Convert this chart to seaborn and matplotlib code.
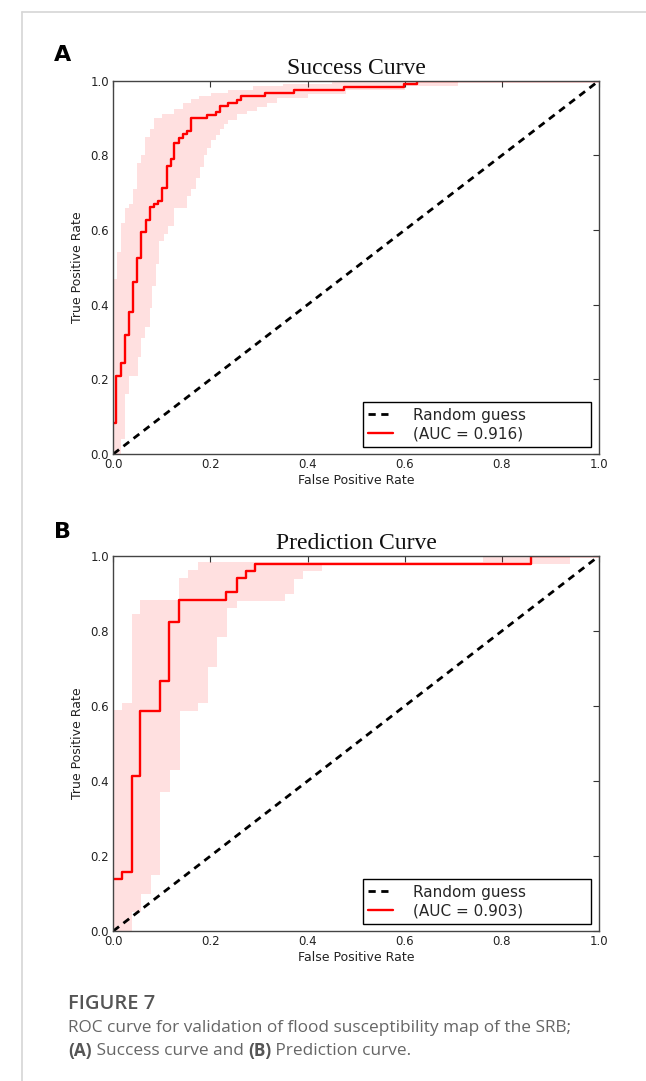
import numpy as np
import pandas as pd
import matplotlib
matplotlib.use("Agg")
import matplotlib.pyplot as plt
from matplotlib.lines import Line2D
import seaborn as sns

# ---------------- data ----------------
# Success curve (panel A): step ROC, tpr[i] holds from fpr[i] to fpr[i+1]
succ_fpr = [0.0, 0.006, 0.016, 0.024, 0.033, 0.041, 0.049, 0.058, 0.067, 0.075,
            0.084, 0.093, 0.101, 0.110, 0.118, 0.126, 0.135, 0.143, 0.152, 0.160,
            0.193, 0.211, 0.220, 0.237, 0.254, 0.262, 0.313, 0.372, 0.475, 0.598,
            0.626, 1.0]
succ_tpr = [0.083, 0.210, 0.245, 0.320, 0.380, 0.460, 0.525, 0.595, 0.627, 0.662,
            0.671, 0.678, 0.713, 0.771, 0.789, 0.832, 0.847, 0.856, 0.865, 0.899,
            0.908, 0.915, 0.932, 0.941, 0.949, 0.958, 0.966, 0.975, 0.984, 0.992,
            1.0, 1.0]
succ_up_x = [0.0, 0.008, 0.016, 0.024, 0.033, 0.041, 0.049, 0.058, 0.066, 0.075,
             0.084, 0.101, 0.126, 0.143, 0.160, 0.177, 0.202, 0.237, 0.288, 0.350,
             0.450, 1.0]
succ_up_y = [0.47, 0.54, 0.62, 0.66, 0.67, 0.71, 0.78, 0.80, 0.85, 0.87,
             0.90, 0.91, 0.925, 0.94, 0.95, 0.96, 0.968, 0.975, 0.985, 0.99,
             1.0, 1.0]
succ_lo_x = [0.0, 0.016, 0.024, 0.033, 0.050, 0.058, 0.066, 0.075, 0.080, 0.087,
             0.095, 0.104, 0.112, 0.126, 0.152, 0.160, 0.170, 0.178, 0.186, 0.193,
             0.202, 0.211, 0.220, 0.228, 0.237, 0.254, 0.275, 0.296, 0.316, 0.337,
             0.400, 0.480, 0.600, 0.710, 1.0]
succ_lo_y = [0.0, 0.04, 0.16, 0.21, 0.26, 0.31, 0.34, 0.39, 0.45, 0.51,
             0.57, 0.59, 0.61, 0.66, 0.69, 0.71, 0.74, 0.77, 0.80, 0.82,
             0.84, 0.855, 0.87, 0.885, 0.895, 0.91, 0.92, 0.93, 0.94, 0.953,
             0.965, 0.975, 0.985, 1.0, 1.0]

# Prediction curve (panel B)
pred_fpr = [0.0, 0.017, 0.038, 0.056, 0.096, 0.115, 0.135, 0.233, 0.254, 0.273,
            0.292, 0.861, 1.0]
pred_tpr = [0.138, 0.157, 0.413, 0.588, 0.667, 0.824, 0.883, 0.903, 0.941, 0.960,
            0.980, 1.0, 1.0]
pred_up_x = [0.0, 0.017, 0.038, 0.056, 0.135, 0.154, 0.174, 0.762, 1.0]
pred_up_y = [0.59, 0.609, 0.845, 0.883, 0.942, 0.963, 0.983, 1.0, 1.0]
pred_lo_x = [0.0, 0.038, 0.058, 0.077, 0.097, 0.117, 0.137, 0.175, 0.196, 0.214,
             0.235, 0.254, 0.353, 0.372, 0.391, 0.429, 0.940, 1.0]
pred_lo_y = [0.0, 0.05, 0.10, 0.15, 0.371, 0.429, 0.587, 0.607, 0.705, 0.783,
             0.862, 0.880, 0.900, 0.940, 0.960, 0.980, 1.0, 1.0]

auc_labels = ["(AUC = 0.916)", "(AUC = 0.903)"]
titles = ["Success Curve", "Prediction Curve"]
panel_letters = ["A", "B"]
diag = [0.0, 1.0]
ticks = [0.0, 0.2, 0.4, 0.6, 0.8, 1.0]
tick_labels = ["0.0", "0.2", "0.4", "0.6", "0.8", "1.0"]

# ---------------- style ----------------
sns.set_theme(style="white")
plt.rcParams["font.family"] = ["DejaVu Sans"]
plt.rcParams.update({
    "xtick.direction": "in", "ytick.direction": "in",
    "xtick.top": True, "ytick.right": True,
    "xtick.major.size": 4, "ytick.major.size": 4,
    "xtick.major.width": 0.8, "ytick.major.width": 0.8,
    "xtick.color": "#333333", "ytick.color": "#333333",
    "axes.edgecolor": "#444444", "axes.linewidth": 1.0,
})

W, H = 646, 1081
fig = plt.figure(figsize=(W / 100, H / 100), dpi=100)
fig.patch.set_facecolor("white")

# frame lines of the page
fig.add_artist(Line2D([22 / W, 22 / W], [0, 1 - 12 / H], color="#d6d6d6", lw=1.2))
fig.add_artist(Line2D([22 / W, 1], [1 - 12 / H, 1 - 12 / H], color="#d6d6d6", lw=1.2))


def step_at(xs, ys, grid):
    idx = np.searchsorted(np.asarray(xs), grid, side="right") - 1
    idx = np.clip(idx, 0, len(ys) - 1)
    return np.asarray(ys)[idx]


def draw_panel(ax, fpr, tpr, ux, uy, lx, ly, label, title):
    grid = np.unique(np.concatenate([ux, lx]))
    up = step_at(ux, uy, grid)
    lo = step_at(lx, ly, grid)
    ax.fill_between(grid, lo, up, step="post", color="#ff0000", alpha=0.12,
                    linewidth=0)
    dfd = pd.DataFrame({"x": diag, "y": diag})
    sns.lineplot(data=dfd, x="x", y="y", ax=ax, color="black", lw=2,
                 dashes=False, linestyle=(0, (2.6, 2.0)), label="Random guess",
                 estimator=None, sort=False)
    dfc = pd.DataFrame({"x": fpr, "y": tpr})
    sns.lineplot(data=dfc, x="x", y="y", ax=ax, color="red", lw=1.7,
                 drawstyle="steps-post", label=label, estimator=None, sort=False)
    ax.set_xlim(0, 1)
    ax.set_ylim(0, 1)
    ax.set_xticks(ticks)
    ax.set_xticklabels(tick_labels)
    ax.set_yticks(ticks)
    ax.set_yticklabels(tick_labels)
    ax.tick_params(labelsize=8.5, pad=3, colors="#333333", labelcolor="#222222")
    ax.set_xlabel("False Positive Rate", fontsize=9, labelpad=2, color="#222222")
    ax.set_ylabel("True Positive Rate", fontsize=9, labelpad=5, color="#222222")
    ax.set_title(title, fontsize=17, family="Liberation Serif", pad=5,
                 color="#111111")
    x0 = (363 - 113.3) / 485.7
    leg = ax.legend(loc="lower left", bbox_to_anchor=(x0, 0.019, 0.9835 - x0, 0.13),
                    mode="expand", borderaxespad=0, fontsize=11, frameon=True,
                    fancybox=False, handlelength=1.6, handletextpad=1.3,
                    borderpad=0.35, labelspacing=0.25)
    leg.get_frame().set_edgecolor("black")
    leg.get_frame().set_linewidth(1.0)
    leg.get_frame().set_alpha(1)
    for s in ax.spines.values():
        s.set_visible(True)


axA = fig.add_axes([113.3 / W, 1 - 454 / H, 485.7 / W, 373.3 / H])
axB = fig.add_axes([113.3 / W, 1 - 931 / H, 485.7 / W, 375 / H])
draw_panel(axA, succ_fpr, succ_tpr, succ_up_x, succ_up_y, succ_lo_x, succ_lo_y,
           auc_labels[0], titles[0])
draw_panel(axB, pred_fpr, pred_tpr, pred_up_x, pred_up_y, pred_lo_x, pred_lo_y,
           auc_labels[1], titles[1])

fig.text(63 / W, 1 - 55 / H, panel_letters[0], fontsize=16, fontweight="bold",
         ha="center", va="center", color="black")
fig.text(63 / W, 1 - 532 / H, panel_letters[1], fontsize=16, fontweight="bold",
         ha="center", va="center", color="black")

# caption
CAP = 12.4
fig.text(68 / W, 1 - 1004 / H, "FIGURE 7", fontsize=14.5, family="Open Sans",
         fontweight="semibold", color="#555555", ha="left", va="center")
fig.text(68 / W, 1 - 1028 / H,
         "ROC curve for validation of flood susceptibility map of the SRB;",
         fontsize=CAP, family="Open Sans", color="#666666", ha="left", va="center")
t1 = fig.text(68 / W, 1 - 1051 / H, "(A)", fontsize=CAP, family="Open Sans",
              fontweight="bold", color="#555555", ha="left", va="center")
fig.canvas.draw()
r = fig.canvas.get_renderer()


def after(t, s, bold=False):
    bb = t.get_window_extent(renderer=r)
    x = bb.x1 / W
    return fig.text(x, 1 - 1051 / H, s, fontsize=CAP, family="Open Sans",
                    fontweight="bold" if bold else "normal",
                    color="#555555" if bold else "#666666", ha="left", va="center")


t2 = after(t1, " Success curve and ")
t3 = after(t2, "(B)", bold=True)
t4 = after(t3, " Prediction curve.")

fig.savefig("out.png", dpi=100, facecolor="white")
